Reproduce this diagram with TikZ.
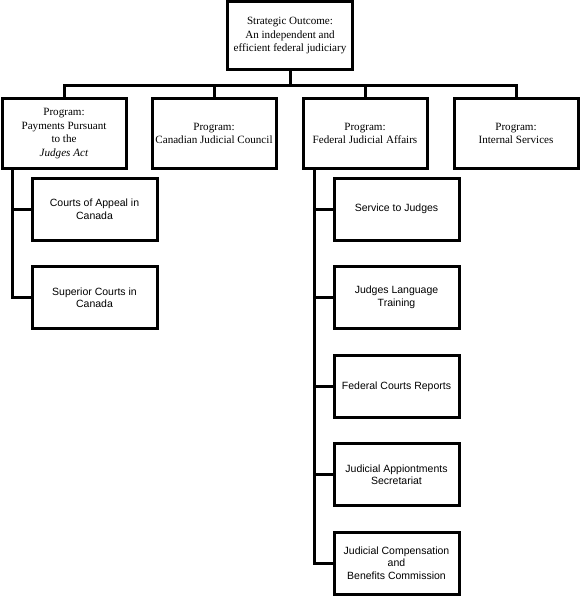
\documentclass[tikz,border=0pt]{standalone}
\usepackage{fontspec}
\setmainfont{Liberation Serif}
\newfontfamily\arialfont{Liberation Sans}
\begin{document}
\begin{tikzpicture}[x=1pt,y=-1pt,
        prog/.style={draw, line width=3pt, minimum width=124pt, minimum height=69pt, align=center, inner sep=1pt, font=\fontsize{11.1}{13.5}\selectfont},
        sub/.style={draw, line width=3pt, minimum width=125pt, minimum height=62pt, align=center, inner sep=2pt, font=\arialfont\fontsize{10.5}{12.5}\selectfont},
        link/.style={line width=3pt}]
        \useasboundingbox (0,0) rectangle (580,596);

        %topo
        \node[prog, minimum width=125pt, minimum height=68pt] (top) at (290,36) {Strategic Outcome:\\An independent and\\efficient federal judiciary};

        %programas
        \node[prog] (p1) at (64,133.5) {Program:\\Payments Pursuant\\to the\\\textit{Judges Act}};
        \node[prog] (p2) at (214,133.5) {Program:\\Canadian Judicial Council};
        \node[prog] (p3) at (365,133.5) {Program:\\Federal Judicial Affairs};
        \node[prog] (p4) at (516,133.5) {Program:\\Internal Services};

        %sub-programas
        \node[sub] (c1) at (94.5,209) {Courts of Appeal in\\Canada};
        \node[sub] (c2) at (94.5,297.5) {Superior Courts in\\Canada};

        \node[sub] (f1) at (396.5,209) {Service to Judges};
        \node[sub] (f2) at (396.5,297.5) {Judges Language\\Training};
        \node[sub] (f3) at (396.5,386.5) {Federal Courts Reports};
        \node[sub] (f4) at (396.5,474.5) {Judicial Appiontments\\Secretariat};
        \node[sub] (f5) at (396.5,563) {Judicial Compensation\\and\\Benefits Commission};

        %ligacoes
        \coordinate (bus) at (290,86);
        \draw[link] (top.south) -- (bus);
        \draw[link] (p1.north) |- (bus) -| (p4.north);
        \draw[link] (bus) -| (p2.north);
        \draw[link] (bus) -| (p3.north);

        \draw[link] ([xshift=12pt]p1.south west) |- (c1.west);
        \draw[link] ([xshift=12pt]p1.south west) |- (c2.west);

        \draw[link] ([xshift=13pt]p3.south west) |- (f1.west);
        \draw[link] ([xshift=13pt]p3.south west) |- (f2.west);
        \draw[link] ([xshift=13pt]p3.south west) |- (f3.west);
        \draw[link] ([xshift=13pt]p3.south west) |- (f4.west);
        \draw[link] ([xshift=13pt]p3.south west) |- (f5.west);

    \end{tikzpicture}
\end{document}
